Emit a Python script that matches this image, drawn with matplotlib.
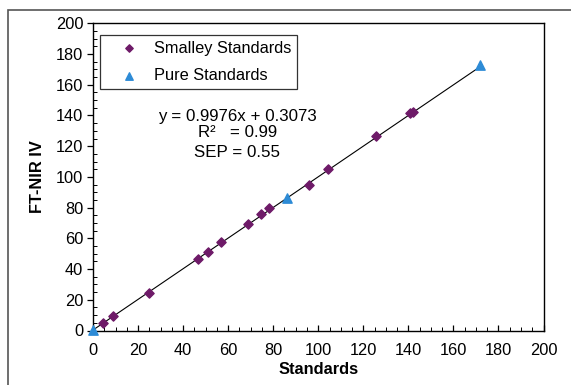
import numpy as np
import matplotlib
matplotlib.use("Agg")
import matplotlib.pyplot as plt
from matplotlib.patches import Rectangle
from matplotlib.ticker import MultipleLocator

plt.rcParams['font.family'] = ['Liberation Sans', 'DejaVu Sans']

# ── Data ───────────────────────────────────────────────────────────
smalley_x = [4.3, 9.0, 24.9, 46.6, 51.2, 57.0, 68.9, 74.8, 78.3, 96.0, 104.3, 125.8, 140.8, 142.2]
smalley_y = [4.6, 9.3, 24.3, 46.7, 51.4, 57.3, 69.5, 75.6, 79.5, 95.0, 105.0, 126.4, 141.6, 142.3]
pure_x = [0.0, 86.0, 172.0]
pure_y = [0.5, 86.0, 172.6]
slope, intercept = 0.9976, 0.3073
fit_range = [0.0, 172.0]
ticks = [0, 20, 40, 60, 80, 100, 120, 140, 160, 180, 200]

FS = 11.8

fig = plt.figure(figsize=(5.71, 3.85), dpi=100)
# outer frame (cut off at right and bottom in the reference)
fig.patches.append(Rectangle((8 / 571, -0.1), 1.2, 1 - 10 / 385 + 0.1,
                             transform=fig.transFigure, fill=False,
                             edgecolor='#555555', linewidth=1.2))

ax = fig.add_axes([93 / 571, 1 - 330.5 / 385, (543.5 - 93) / 571, (330.5 - 23.3) / 385])

fx = np.array(fit_range)
ax.plot(fx, slope * fx + intercept, color='black', linewidth=0.8, zorder=2)
ax.scatter(smalley_x, smalley_y, marker='D', s=22, color='#6e1a68',
           edgecolor='#6e1a68', label='Smalley Standards', zorder=3, clip_on=False)
ax.scatter(pure_x, pure_y, marker='^', s=45, color='#2d8bd6',
           label='Pure Standards', zorder=3, clip_on=False)

ax.set_xlim(0, 200)
ax.set_ylim(0, 200)
ax.set_xticks(ticks)
ax.set_yticks(ticks)
ax.xaxis.set_minor_locator(MultipleLocator(5))
ax.yaxis.set_minor_locator(MultipleLocator(5))
ax.tick_params(which='both', labelsize=FS, width=0.9)
ax.tick_params(axis='x', which='major', direction='in', length=4.5, pad=9)
ax.tick_params(axis='y', which='major', direction='out', length=4, pad=3)
ax.tick_params(which='minor', direction='in', length=3, width=0.7)
for sp in ax.spines.values():
    sp.set_linewidth(1.0)

ax.set_xlabel('Standards', fontsize=FS, fontweight='bold', labelpad=3)
ax.set_ylabel('FT-NIR IV', fontsize=FS, fontweight='bold', labelpad=8)

leg = ax.legend(loc='upper left', bbox_to_anchor=(0.0155, 0.962), fontsize=FS,
                frameon=True, fancybox=False, edgecolor='black',
                handletextpad=0.15, borderpad=0.35, labelspacing=0.75,
                markerscale=0.8, handlelength=2.8, borderaxespad=0)
leg.get_frame().set_linewidth(0.9)

# fit statistics
ax.text(64, 139, 'y = 0.9976x + 0.3073', ha='center', va='center', fontsize=12.2)
ax.text(64, 128.6, 'R\u00b2   = 0.99', ha='center', va='center', fontsize=12.2)
ax.text(64, 116.2, 'SEP = 0.55', ha='center', va='center', fontsize=12.2)

fig.savefig('out.png', dpi=100)
